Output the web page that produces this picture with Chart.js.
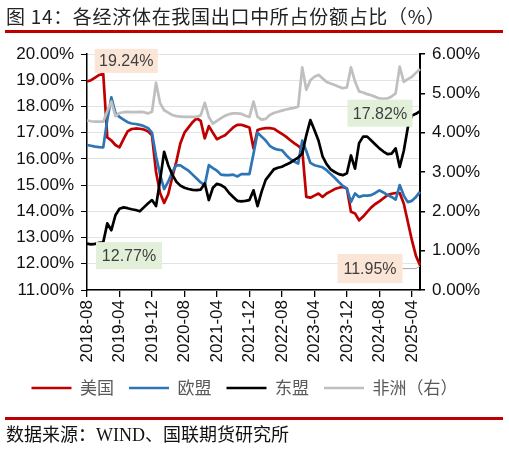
<!DOCTYPE html>
<html><head><meta charset="utf-8">
<script src="https://cdn.jsdelivr.net/npm/chart.js@4.4.1/dist/chart.umd.min.js"></script>
<style>
html,body{margin:0;padding:0;background:#fff;}
#wrap{position:relative;width:509px;height:450px;overflow:hidden;background:#fff;}
#c{position:absolute;left:0;top:0;}
#title{position:absolute;left:6px;top:5px;font-family:"Noto Sans CJK SC",sans-serif;font-size:19px;line-height:22px;color:#222;white-space:nowrap;letter-spacing:0.7px;}
.rule{position:absolute;left:5px;width:498px;height:3px;background:#C00000;}
#src{position:absolute;left:6px;top:425px;font-family:"Liberation Serif","Noto Sans CJK SC",serif;font-size:18px;line-height:20px;color:#111;white-space:nowrap;}
</style></head>
<body><div id="wrap">
<canvas id="c" width="509" height="450"></canvas>
<div id="title">图 14：各经济体在我国出口中所占份额占比（%）</div>
<div class="rule" style="top:30px"></div>
<div class="rule" style="top:417px"></div>
<div id="src">数据来源：WIND、国联期货研究所</div>
</div>
<script>
const months = [
'2018-08','2018-09','2018-10','2018-11','2018-12',
'2019-01','2019-02','2019-03','2019-04','2019-05','2019-06','2019-07','2019-08','2019-09','2019-10','2019-11','2019-12',
'2020-01','2020-02','2020-03','2020-04','2020-05','2020-06','2020-07','2020-08','2020-09','2020-10','2020-11','2020-12',
'2021-01','2021-02','2021-03','2021-04','2021-05','2021-06','2021-07','2021-08','2021-09','2021-10','2021-11','2021-12',
'2022-01','2022-02','2022-03','2022-04','2022-05','2022-06','2022-07','2022-08','2022-09','2022-10','2022-11','2022-12',
'2023-01','2023-02','2023-03','2023-04','2023-05','2023-06','2023-07','2023-08','2023-09','2023-10','2023-11','2023-12',
'2024-01','2024-02','2024-03','2024-04','2024-05','2024-06','2024-07','2024-08','2024-09','2024-10','2024-11','2024-12',
'2025-01','2025-02','2025-03','2025-04','2025-05','2025-06'];

// 美国 (left axis, %)
const usShare = [18.95,19.00,19.10,19.20,19.24,16.82,16.70,16.53,16.44,16.75,
17.05,17.14,17.16,17.15,17.12,17.05,16.90,15.50,14.70,14.32,
14.65,15.30,15.90,16.60,17.00,17.20,17.40,17.55,17.45,16.78,
17.25,17.00,16.75,16.83,16.90,17.05,17.20,17.30,17.30,17.25,
17.20,16.40,17.10,17.15,17.17,17.17,17.15,17.05,16.95,16.85,
16.72,16.60,16.50,16.35,14.55,14.52,14.60,14.68,14.55,14.68,
14.76,14.85,14.90,14.93,14.87,13.98,13.92,13.66,13.80,13.98,
14.15,14.28,14.38,14.50,14.62,14.67,14.70,14.70,14.30,13.60,
12.90,12.30,11.95];
// 欧盟 (left axis, %)
const euShare = [16.53,16.50,16.47,16.45,16.44,17.50,18.35,17.75,17.60,17.50,
17.40,17.35,17.33,17.30,17.25,17.18,17.00,16.10,15.40,14.85,
15.13,15.50,15.76,15.75,15.65,15.55,15.40,15.25,15.10,15.00,
15.76,15.65,15.55,15.40,15.38,15.38,15.40,15.33,15.42,15.42,
15.42,16.20,17.00,16.85,16.70,16.50,16.40,16.35,16.33,16.15,
16.00,15.90,15.82,16.70,16.30,15.85,15.76,15.72,15.68,15.57,
15.42,15.28,15.12,14.97,14.87,14.36,14.68,14.55,14.60,14.60,
14.62,14.70,14.80,14.72,14.62,14.55,14.45,15.00,14.60,14.35,
14.40,14.55,14.74];
// 东盟 (left axis, %)
const aseanShare = [12.77,12.74,12.76,12.80,12.82,13.54,13.28,13.85,14.10,14.15,
14.12,14.08,14.05,14.00,14.15,14.30,14.43,14.20,15.20,16.27,
15.76,15.40,15.13,14.98,14.90,14.85,14.82,14.81,14.83,15.06,
14.43,14.90,15.05,15.00,14.90,14.70,14.55,14.40,14.38,14.40,
14.43,14.80,14.20,14.75,15.20,15.40,15.60,15.66,15.70,15.78,
15.85,15.95,16.05,16.20,16.90,17.48,17.10,16.70,16.10,15.80,
15.60,15.50,15.42,15.38,15.45,16.13,15.63,16.60,16.85,16.85,
16.70,16.55,16.40,16.28,16.18,16.20,16.40,15.69,16.30,17.20,
17.65,17.72,17.82];
// 非洲 (right axis, %)
const africaShare = [4.31,4.29,4.28,4.28,4.28,4.55,4.79,4.42,4.50,4.52,
4.53,4.52,4.52,4.53,4.52,4.49,4.53,5.27,4.75,4.57,
4.51,4.45,4.42,4.41,4.40,4.40,4.40,4.40,4.44,4.76,
4.40,4.23,4.30,4.37,4.43,4.47,4.49,4.49,4.48,4.43,
4.40,4.79,4.40,4.33,4.35,4.45,4.50,4.53,4.56,4.59,
4.61,4.63,4.66,5.66,5.09,5.33,5.42,5.47,5.38,5.29,
5.25,5.21,5.17,5.13,5.15,5.66,5.30,5.05,5.02,4.98,
4.95,4.91,4.87,4.86,4.87,4.92,5.00,5.68,5.29,5.36,
5.42,5.52,5.62];

const seriesNames = ['美国','欧盟','东盟','非洲（右）'];
const seriesColors = ['#C00000','#2E75B6','#000000','#BFBFBF'];
const leftRange = [11, 20];
const rightRange = [0, 6];
const tickEvery = 8;

// value labels: dataset index, point index, box offset from point, box colour
const valueLabels = [
  {ds:0, idx:4,  dx:23,  dy:-13, w:63, h:24, bg:'#FBE5D6'},
  {ds:2, idx:0,  dx:42,  dy:12,  w:66, h:27, bg:'#E2F0D9'},
  {ds:2, idx:82, dx:-40, dy:2,   w:65, h:27, bg:'#E2F0D9'},
  {ds:0, idx:82, dx:-50, dy:3.5, w:65, h:29, bg:'#FBE5D6', leader:true}
];

const seriesData = [usShare, euShare, aseanShare, africaShare];
const tickFont = {family:'"Liberation Sans", Arial, sans-serif', size:17};
const pct = v => Number(v).toFixed(2) + '%';

const labelPlugin = {
  id: 'valueLabels',
  afterDatasetsDraw(chart) {
    const ctx = chart.ctx;
    valueLabels.forEach(l => {
      const pt = chart.getDatasetMeta(l.ds).data[l.idx];
      const cx = pt.x + l.dx, cy = pt.y + l.dy;
      ctx.save();
      if (l.leader) {
        ctx.strokeStyle = '#A6A6A6'; ctx.lineWidth = 1;
        ctx.beginPath();
        ctx.moveTo(cx + l.w/2, cy);
        ctx.lineTo(pt.x - 4, cy);
        ctx.lineTo(pt.x, pt.y + 1);
        ctx.stroke();
      }
      ctx.fillStyle = l.bg;
      ctx.fillRect(cx - l.w/2, cy - l.h/2, l.w, l.h);
      ctx.font = '16px "Liberation Sans", Arial, sans-serif';
      ctx.fillStyle = '#404040';
      ctx.textAlign = 'center'; ctx.textBaseline = 'middle';
      ctx.fillText(pct(seriesData[l.ds][l.idx]), cx, cy + 1);
      ctx.restore();
    });
  }
};

new Chart(document.getElementById('c'), {
  type: 'line',
  data: {
    labels: months,
    datasets: seriesData.map((d, i) => ({
      label: seriesNames[i],
      data: d,
      borderColor: seriesColors[i],
      backgroundColor: seriesColors[i],
      borderWidth: 2.7,
      yAxisID: i === 3 ? 'y1' : 'y',
      order: 3 - i
    }))
  },
  options: {
    responsive: false,
    animation: false,
    layout: {padding: {top: 54, left: 0, right: 20, bottom: 43.5}},
    elements: {point: {radius: 0}, line: {tension: 0, borderJoinStyle: 'round'}},
    plugins: {
      tooltip: {enabled: false},
      legend: {
        position: 'bottom',
        labels: {
          usePointStyle: true, pointStyle: 'line', pointStyleWidth: 40,
          font: {family: '"Noto Sans CJK SC", sans-serif', size: 17},
          color: '#595959', padding: 15,
          sort: (a, b) => a.datasetIndex - b.datasetIndex
        }
      }
    },
    scales: {
      x: {
        grid: {drawOnChartArea: false, tickLength: 7, lineWidth: 1.3,
               tickColor: c => (c.index % tickEvery === 0 ? '#000' : 'rgba(0,0,0,0)')},
        border: {color: '#000', width: 1.5},
        ticks: {autoSkip: false, minRotation: 90, maxRotation: 90, padding: 3,
                font: tickFont, color: '#111',
                callback: (v, i) => (i % tickEvery === 0 ? months[i] : '')},
        afterFit: s => { s.height = 74.5; }
      },
      y: {
        position: 'left', min: leftRange[0], max: leftRange[1],
        ticks: {stepSize: 1, padding: 7, font: tickFont, color: '#111', callback: v => pct(v)},
        grid: {color: '#E3E3E3', lineWidth: 1, tickColor: '#000', tickLength: 6},
        border: {color: '#000', width: 1.5},
        afterFit: s => { s.width = 87; }
      },
      y1: {
        position: 'right', min: rightRange[0], max: rightRange[1],
        ticks: {stepSize: 1, padding: 7, font: tickFont, color: '#111', callback: v => pct(v)},
        grid: {drawOnChartArea: false, tickColor: '#000', tickLength: 5, lineWidth: 1.5},
        border: {color: '#000', width: 2},
        afterFit: s => { s.width = 69; }
      }
    }
  },
  plugins: [labelPlugin]
});
</script>
</body></html>
